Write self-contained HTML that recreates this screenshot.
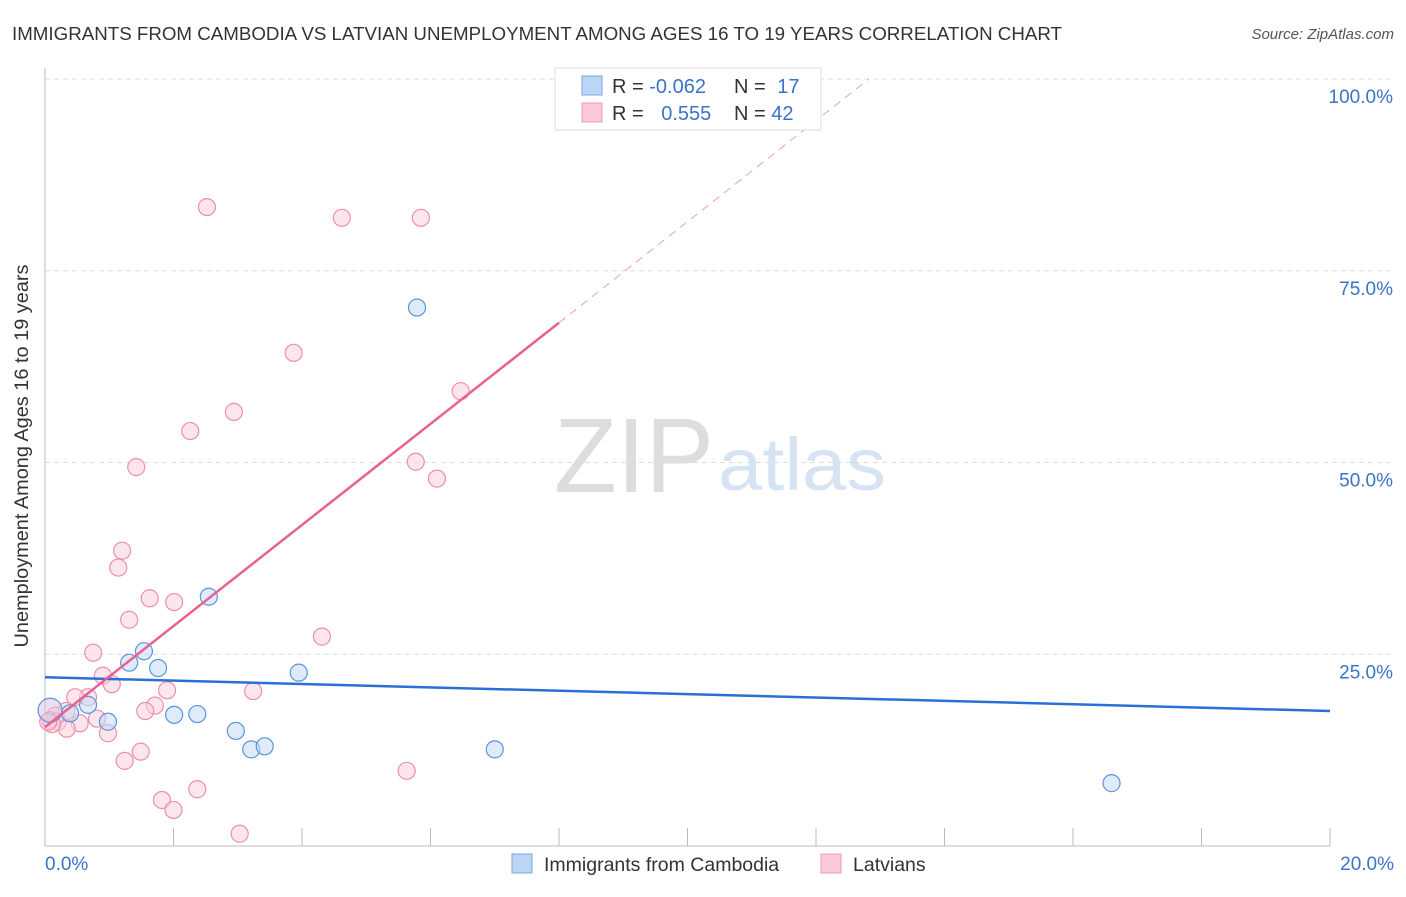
<!DOCTYPE html>
<html><head><meta charset="utf-8"><style>
body{margin:0;background:#fff;font-family:"Liberation Sans",sans-serif}
svg text{font-family:"Liberation Sans",sans-serif}
</style></head><body>
<svg width="1406" height="892">
<text x="12" y="40" font-size="18.5" fill="#333" textLength="1050" lengthAdjust="spacingAndGlyphs">IMMIGRANTS FROM CAMBODIA VS LATVIAN UNEMPLOYMENT AMONG AGES 16 TO 19 YEARS CORRELATION CHART</text>
<text x="1394" y="39" font-size="15" fill="#555" font-style="italic" text-anchor="end">Source: ZipAtlas.com</text>
<text x="554" y="492" font-size="106" fill="#ddd" font-family="Liberation Serif" textLength="160" lengthAdjust="spacingAndGlyphs">ZIP</text>
<text x="718" y="490" font-size="74" fill="#d6e3f3" textLength="168" lengthAdjust="spacingAndGlyphs">atlas</text>
<g id="grid"></g>
<line x1="45" y1="68" x2="45" y2="846" stroke="#bbb"/>
<line x1="45" y1="846" x2="1330" y2="846" stroke="#bbb"/>
<text x="28" y="456" font-size="19" fill="#333" text-anchor="middle" textLength="383" lengthAdjust="spacingAndGlyphs" transform="rotate(-90 28 456)">Unemployment Among Ages 16 to 19 years</text>
<text x="45" y="870" font-size="19" fill="#3b73c9">0.0%</text>
<text x="1394" y="870" font-size="19" fill="#3b73c9" text-anchor="end">20.0%</text>
<g id="marks"></g>
<g>
<rect x="555" y="68" width="266" height="62" fill="#fff" stroke="#ddd"/>
<rect x="582" y="76" width="20" height="19" fill="#bcd5f5" stroke="#7aa6e2"/>
<rect x="582" y="103" width="20" height="19" fill="#fbc9d8" stroke="#ee9bb5"/>
<text x="612" y="93" font-size="20" fill="#333">R = <tspan fill="#3b73c9">-0.062</tspan></text>
<text x="734" y="93" font-size="20" fill="#333">N = <tspan fill="#3b73c9" dx="6">17</tspan></text>
<text x="612" y="120" font-size="20" fill="#333">R = <tspan fill="#3b73c9" dx="12">0.555</tspan></text>
<text x="734" y="120" font-size="20" fill="#333">N = <tspan fill="#3b73c9">42</tspan></text>
</g>
<g>
<rect x="512" y="854" width="20" height="19" fill="#bcd5f5" stroke="#7aa6e2"/>
<text x="544" y="871" font-size="19.5" fill="#333">Immigrants from Cambodia</text>
<rect x="821" y="854" width="20" height="19" fill="#fbc9d8" stroke="#ee9bb5"/>
<text x="853" y="871" font-size="19.5" fill="#333">Latvians</text>
</g>
</svg>
<script>
const yTicks=[25,50,75,100];
const yTickLabels=["25.0%","50.0%","75.0%","100.0%"];
const xTicks=[0,2,4,6,8,10,12,14,16,18,20];
const blueX=[0.08,0.39,0.67,0.98,1.31,1.54,1.76,2.01,2.37,2.55,2.97,3.21,3.42,3.95,5.79,7.00,16.60];
const blueY=[17.7,17.3,18.4,16.2,23.9,25.4,23.2,17.1,17.2,32.5,15.0,12.6,13.0,22.6,70.2,12.6,8.2];
const pinkX=[2.52,4.62,5.85,3.87,2.94,6.47,2.26,1.42,5.77,6.10,1.20,1.14,1.63,2.01,1.31,4.31,0.75,0.90,1.04,1.90,3.24,0.67,0.47,1.71,1.56,0.33,0.16,0.08,0.20,0.54,0.81,0.98,0.34,0.11,1.49,1.24,5.63,2.37,1.82,2.00,3.03,0.05];
const pinkY=[83.3,81.9,81.9,64.3,56.6,59.3,54.1,49.4,50.1,47.9,38.5,36.3,32.3,31.8,29.5,27.3,25.2,22.2,21.1,20.3,20.2,19.4,19.4,18.3,17.6,17.6,17.0,16.4,16.2,16.0,16.6,14.7,15.3,15.9,12.3,11.1,9.8,7.4,6.0,4.7,1.6,16.2];
const blueTrend=[22.0,17.6];
const pinkTrend=[15.5,6.59];
const NS="http://www.w3.org/2000/svg";
const X=v=>45+v/20*1285, Y=v=>846-v/100*767;
function mk(tag,a,parent){const e=document.createElementNS(NS,tag);for(const k in a)e.setAttribute(k,a[k]);document.getElementById(parent).appendChild(e);return e;}
yTicks.forEach((t,i)=>{
 const l=mk('line',{x1:45,x2:1395,y1:Y(t),y2:Y(t),stroke:'#ddd','stroke-dasharray':'5,4'},'grid');
 
 
 const tx=mk('text',{x:1393,y:Y(t)+24,'font-size':19,fill:'#3b73c9','text-anchor':'end'},'grid');
 tx.textContent=yTickLabels[i];
 
 
});
xTicks.forEach(t=>{
 const l=mk('line',{x1:X(t),x2:X(t),y1:828,y2:846,stroke:'#bbb'},'grid');
 
 
});
function pt(x,y,r,fill,stroke){
 return mk('circle',{cx:X(x),cy:Y(y),r:r,fill:fill,'fill-opacity':0.55,stroke:stroke,'stroke-width':1.2},'marks');
}
pinkX.forEach((x,i)=>{
 const c=pt(x,pinkY[i],8.5,'#fbd0dd','#ec8fae');
 
 
});
blueX.forEach((x,i)=>{
 const c=pt(x,blueY[i],i===0?12:8.5,i===0?'#d8c6e6':'#c6dbf6','#5b93dd');
 
 
});
const bl=mk('line',{x1:X(0),y1:Y(blueTrend[0]),x2:X(20),y2:Y(blueTrend[1]),stroke:'#2a6fd6','stroke-width':2.5},'marks');


const px1=8.0, px2=(100-pinkTrend[0])/pinkTrend[1];
const pl=mk('line',{x1:X(0),y1:Y(pinkTrend[0]),x2:X(px1),y2:Y(pinkTrend[0]+pinkTrend[1]*px1),stroke:'#e8618f','stroke-width':2.5},'marks');


const pd=mk('line',{x1:X(px1),y1:Y(pinkTrend[0]+pinkTrend[1]*px1),x2:X(px2),y2:Y(100),stroke:'#eaa0b8','stroke-width':1,'stroke-dasharray':'8,6'},'marks');


</script>
</body></html>
